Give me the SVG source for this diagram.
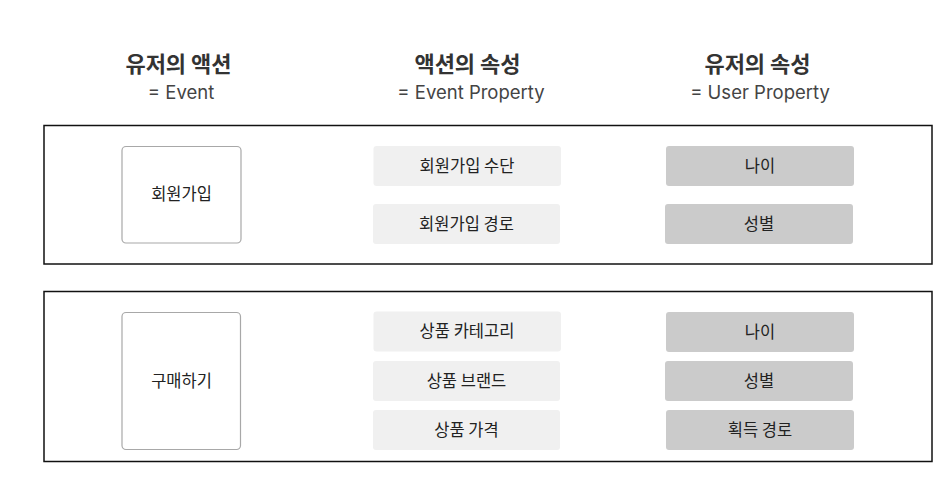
<svg xmlns="http://www.w3.org/2000/svg" width="946" height="477" viewBox="0 0 946 477">
<style>
.title{font-family:"Noto Sans CJK KR","Noto Sans",sans-serif;font-size:22px;font-weight:700;fill:#333;text-anchor:middle}
.sub{font-family:Inter,"Noto Sans CJK KR",sans-serif;font-size:18.5px;fill:#444;text-anchor:middle}
.lbl{font-family:"Noto Sans CJK KR","Noto Sans",sans-serif;font-size:16.5px;fill:#222;text-anchor:middle;dominant-baseline:central}
.grp{fill:#fff;stroke:#111;stroke-width:1.5}
.ev{fill:#fff;stroke:#a8a8a8;stroke-width:1.2}
.ep{fill:#f0f0f0}
.up{fill:#cbcbcb}
</style>
<rect width="946" height="477" fill="#fff"/>
<g id="headers">
<text class="title" x="178.5" y="72">유저의 액션</text>
<text class="sub" x="181" y="99">= Event</text>
<text class="title" x="467.5" y="72">액션의 속성</text>
<text class="sub" x="471" y="99">= Event Property</text>
<text class="title" x="757.5" y="72">유저의 속성</text>
<text class="sub" x="760" y="99">= User Property</text>
</g>
<g id="group-signup"><rect class="grp" x="44" y="125.5" width="888" height="138.5"/></g>
<g id="group-purchase"><rect class="grp" x="44" y="291.5" width="888" height="170"/></g>
<g id="ev-signup"><rect class="ev" x="122" y="146.5" width="119" height="96.5" rx="4"/><text class="lbl" x="181.5" y="193">회원가입</text></g>
<g id="ev-purchase"><rect class="ev" x="122" y="312.5" width="118.5" height="137" rx="4"/><text class="lbl" x="181.5" y="379.5">구매하기</text></g>
<g id="ep-signup-method"><rect class="ep" x="373.5" y="146" width="187.5" height="40" rx="3"/><text class="lbl" x="467" y="164.5">회원가입 수단</text></g>
<g id="ep-signup-path"><rect class="ep" x="373" y="204" width="187" height="40" rx="3"/><text class="lbl" x="466.5" y="222.5">회원가입 경로</text></g>
<g id="up-age-1"><rect class="up" x="666" y="146" width="188" height="40" rx="3"/><text class="lbl" x="760" y="164.5">나이</text></g>
<g id="up-gender-1"><rect class="up" x="665" y="204" width="188" height="40" rx="3"/><text class="lbl" x="759" y="222.5">성별</text></g>
<g id="ep-category"><rect class="ep" x="373.5" y="311.5" width="187.5" height="40" rx="3"/><text class="lbl" x="467" y="330">상품 카테고리</text></g>
<g id="ep-brand"><rect class="ep" x="373" y="361" width="187" height="40" rx="3"/><text class="lbl" x="466.5" y="379.5">상품 브랜드</text></g>
<g id="ep-price"><rect class="ep" x="373" y="410" width="187" height="40" rx="3"/><text class="lbl" x="466.5" y="428.5">상품 가격</text></g>
<g id="up-age-2"><rect class="up" x="666" y="312" width="188" height="40" rx="3"/><text class="lbl" x="760" y="330.5">나이</text></g>
<g id="up-gender-2"><rect class="up" x="665" y="361" width="188" height="40" rx="3"/><text class="lbl" x="759" y="379.5">성별</text></g>
<g id="up-acquisition"><rect class="up" x="666" y="410" width="188" height="40" rx="3"/><text class="lbl" x="760" y="428.5">획득 경로</text></g>
<g id="connectors"></g>
</svg>
